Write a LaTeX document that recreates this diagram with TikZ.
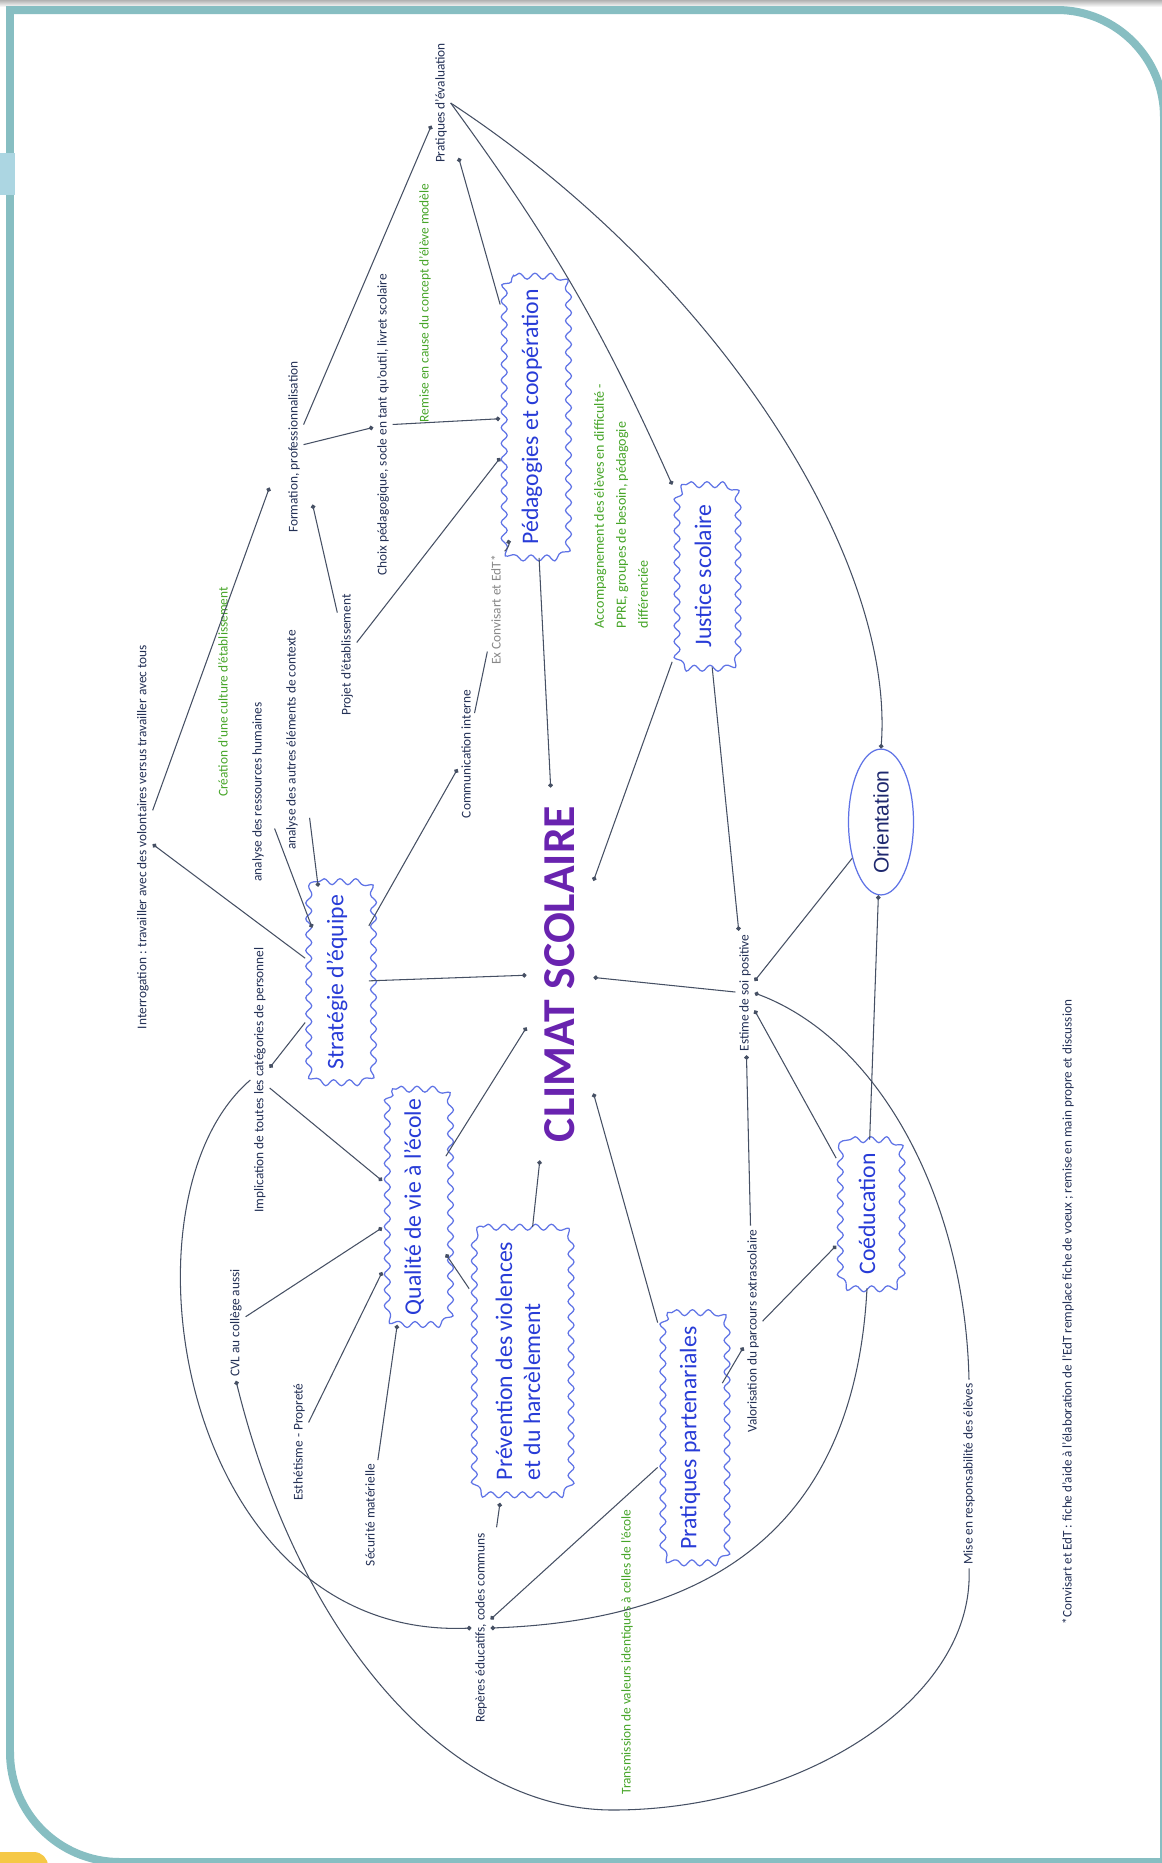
\documentclass[tikz,border=0pt]{standalone}
\usepackage{fontspec}
\setmainfont{Carlito}
\newfontfamily\arialf{Liberation Sans}
\usetikzlibrary{decorations.pathmorphing,shapes.geometric,arrows.meta,calc}
\definecolor{frameteal}{RGB}{135,190,194}
\definecolor{tabblue}{RGB}{172,214,226}
\definecolor{tabyellow}{RGB}{245,200,70}
\definecolor{txtdark}{RGB}{35,48,85}
\definecolor{txtgreen}{RGB}{70,165,40}
\definecolor{cloudtxt}{RGB}{40,60,215}
\definecolor{cloudline}{RGB}{95,115,230}
\definecolor{purp}{RGB}{105,35,175}
\definecolor{linec}{RGB}{70,80,100}
\definecolor{graytxt}{RGB}{135,135,135}
\definecolor{navy}{RGB}{30,40,110}
\begin{document}
\begin{tikzpicture}[x=0.02cm,y=-0.02cm,
  lbl/.style={rotate=90, inner sep=2pt, text=txtdark, font=\fontsize{7.6}{9}\selectfont},
  glbl/.style={lbl, text=txtgreen},
  cloudbox/.style={rotate=90, text=cloudtxt, font=\fontsize{13.5}{16}\selectfont, inner sep=0pt, align=center},
  cloudedge/.style={draw=cloudline, line width=0.7pt, decorate,
    decoration={snake, segment length=9pt, amplitude=1.7pt}},
  conn/.style={draw=linec, line width=0.6pt, -{Circle[length=2.6pt]}},
  plainc/.style={draw=linec, line width=0.6pt}
]
\useasboundingbox (0,0) rectangle (1162,1863);
\fill[white] (0,0) rectangle (1162,1863);
% frame
\shade[top color=black!30, bottom color=white] (0,0) rectangle (1162,7);
\draw[frameteal, line width=0.16cm] (10,1752) -- (10,10) -- (1057,10) .. controls (1116,10) and (1164,58) .. (1164,117) -- (1164,1880);
\draw[frameteal, line width=0.16cm] (10,1752) .. controls (10,1813) and (59,1862) .. (120,1862) -- (1180,1862);
\fill[tabblue] (0,153) rectangle (15,195);
\fill[tabyellow, rounded corners=8pt] (-20,1852) rectangle (48,1895);

% main nodes
\node[rotate=90, text=purp, font=\fontsize{26}{30}\selectfont\bfseries, inner sep=0.36cm] (climat) at (560,974) {CLIMAT SCOLAIRE};
\node[cloudbox, minimum width=5.62cm, minimum height=1.26cm] (ped) at (532,417) {Pédagogies et coopération};
\node[cloudbox, minimum width=3.64cm, minimum height=1.22cm] (just) at (703,576) {Justice scolaire};
\node[rotate=90, ellipse, draw=cloudline, line width=0.7pt, text=navy, font=\arialf\fontsize{12}{14}\selectfont, minimum width=2.6cm, minimum height=1.3cm, inner sep=0pt] (orient) at (881,822) {Orientation};
\node[cloudbox, minimum width=4.0cm, minimum height=1.26cm] (strat) at (337,982) {Stratégie d'équipe};
\node[cloudbox, minimum width=4.7cm, minimum height=1.26cm] (qual) at (414,1207) {Qualité de vie à l'école};
\node[cloudbox, minimum width=5.34cm, minimum height=1.94cm, align=left] (prev) at (518,1361) {Prévention des violences\\et du harcèlement};
\node[cloudbox, minimum width=5.0cm, minimum height=1.28cm] (part) at (690,1438) {Pratiques partenariales};
\node[cloudbox, minimum width=2.96cm, minimum height=1.22cm] (cood) at (867,1214) {Coéducation};
\foreach \cname in {ped,just,strat,qual,prev,part,cood}{
  \draw[cloudedge] let \p1=(\cname.north east), \p2=(\cname.south west) in
    ({\x1+8pt},\y1) -- ({\x2-8pt},\y1) arc[start angle=90, end angle=0, radius=8pt]
    -- (\x2,{\y2+8pt}) arc[start angle=0, end angle=-90, radius=8pt]
    -- ({\x1+8pt},\y2) arc[start angle=270, end angle=180, radius=8pt]
    -- (\x1,{\y1-8pt}) arc[start angle=180, end angle=90, radius=8pt] -- cycle;
}

% labels
\node[lbl] (eval) at (441,103) {Pratiques d'évaluation};
\node[glbl] (remise) at (425,303) {Remise en cause du concept d'élève modèle};
\node[lbl] (choix) at (383,425) {Choix pédagogique, socle en tant qu'outil, livret scolaire};
\node[lbl] (form) at (294,447) {Formation, professionnalisation};
\node[lbl] (projet) at (347,655) {Projet d'établissement};
\node[lbl] (autres) at (292,740) {analyse des autres éléments de contexte};
\node[lbl] (rh) at (258,792) {analyse des ressources humaines};
\node[glbl] (culture) at (223,692) {Création d'une culture d'établissement};
\node[lbl] (interro) at (143,837) {Interrogation : travailler avec des volontaires versus travailler avec tous};
\node[lbl] (impl) at (260,1080) {Implication de toutes les catégories de personnel};
\node[lbl] (cvl) at (236,1323) {CVL au collège aussi};
\node[lbl] (esth) at (299,1442) {Esthétisme - Propreté};
\node[lbl] (secu) at (370,1515) {Sécurité matérielle};
\node[lbl] (reperes) at (481,1628) {Repères éducatifs, codes communs};
\node[glbl] (transm) at (627,1652) {Transmission de valeurs identiques à celles de l'école};
\node[lbl] (valor) at (753,1331) {Valorisation du parcours extrascolaire};
\node[lbl] (estime) at (745,993) {Estime de soi positive};
\node[lbl] (mise) at (969,1474) {Mise en responsabilité des élèves};
\node[lbl, font=\fontsize{7.5}{9}\selectfont] (foot) at (1068,1312) {*Convisart et EdT : fiche d'aide à l'élaboration de l'EdT remplace fiche de voeux ; remise en main propre et discussion};
\node[lbl, text=graytxt] (exconv) at (496,610) {Ex Convisart et EdT*};
\node[lbl] (comm) at (466,754) {Communication interne};
\node[glbl, font=\fontsize{8}{12.5}\selectfont, align=left, anchor=west] (accomp) at (621,632) {Accompagnement des élèves en difficulté -\\PPRE, groupes de besoin, pédagogie\\différenciée};
\coordinate (bottomarc) at (613,1810);

% connectors
\draw[conn] (form) -- (eval);
\draw[conn] (form) -- (choix);
\draw[conn] (choix) -- (ped);
\draw[conn] (ped) -- ([shift={(8,-9)}]eval.south west);
\draw[conn] (eval.south) to[bend left=6] (just.north east);
\draw[conn] (eval.south) .. controls (720,280) and (895,560) .. (orient.east);
\draw[conn] (ped) -- (climat);
\draw[conn] (just) -- (climat);
\draw[conn] (estime) -- (climat);
\draw[conn] (strat) -- (climat);
\draw[conn] (qual) -- (climat);
\draw[conn] (prev) -- (climat);
\draw[conn] (part) -- (climat);
\draw[conn] (orient) -- (estime);
\draw[conn] (cood) -- (orient);
\draw[conn] (cood) -- (estime);
\draw[conn] (valor) -- (estime);
\draw[conn] (valor) -- (cood);
\draw[conn] (part) -- (valor);
\draw[conn] (just) -- (estime);
\draw[conn] (projet) -- (ped);
\draw[conn] (projet) -- ([shift={(9,-32)}]form.south west);
\draw[conn] ([shift={(8,-36)}]autres.south west) -- ([shift={(13,5)}]strat.north east);
\draw[conn] ([shift={(7,-57)}]rh.south west) -- ([shift={(7,46)}]strat.north east);
\draw[conn] (strat) -- (interro);
\draw[conn] (interro) -- ([shift={(-15,-49)}]form.north west);
\draw[conn] (strat) -- (impl);
\draw[conn] (impl) -- (qual);
\draw[conn] (cvl) -- (qual);
\draw[conn] (esth) -- (qual);
\draw[conn] (secu) -- (qual);
\draw[conn] (prev) -- (qual);
\draw[conn] ([shift={(6,-2)}]reperes.south east) -- ([shift={(-18,8)}]prev.west);
\draw[conn] (part) -- (reperes);
\draw[conn] (cood.west) .. controls (855,1520) and (720,1620) .. (reperes.south);
\draw[conn] (mise.east) .. controls (965,1200) and (880,1040) .. (estime.south);
\draw[conn] (mise.west) .. controls (975,1700) and (800,1810) .. (bottomarc) .. controls (450,1810) and (300,1640) .. (cvl.west);
\draw[conn] (impl.north) .. controls (110,1200) and (180,1640) .. (reperes.north);
\draw[conn] (strat) -- (comm);
\draw[plainc] (comm) -- (exconv);
\draw[conn] (exconv.south east) to[bend right=30] ([shift={(8,-18)}]ped.north west);
\end{tikzpicture}
\end{document}
